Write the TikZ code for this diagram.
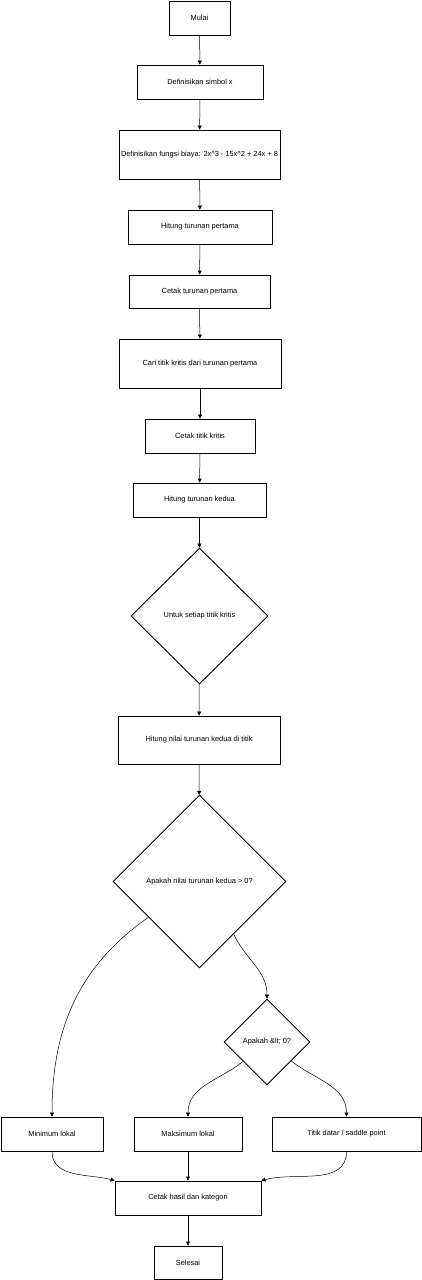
\documentclass[tikz,border=0pt]{standalone}
\usepackage{fontspec}
\setmainfont{Liberation Sans}
\usepackage{tikz}
\usetikzlibrary{positioning, arrows.meta, shapes.geometric}

\begin{document}
\begin{tikzpicture}[x=1pt, y=1pt,
        font=\fontsize{7.4}{9}\selectfont,
        box/.style={draw, line width=0.9pt, inner sep=1pt, align=center},
        cond/.style={draw, diamond, aspect=1, line width=0.9pt, inner sep=1pt},
        arr/.style={-{Triangle[length=4pt, width=4pt]}, line width=0.5pt}]
    \useasboundingbox (0,0) rectangle (422,-1280);
    % main column
    \node[box, minimum width=61pt,  minimum height=34pt] (start) at (199.5,-18)   {Mulai};
    \node[box, minimum width=126pt, minimum height=34pt] (defx)  at (200,-82)     {Definisikan simbol x};
    \node[box, minimum width=161pt, minimum height=49pt] (deff)  at (199.5,-154.5) {Definisikan fungsi biaya: 2x\^{}3 - 15x\^{}2 + 24x + 8};
    \node[box, minimum width=144pt, minimum height=34pt] (hit1)  at (200,-227)    {Hitung turunan pertama};
    \node[box, minimum width=141pt, minimum height=33pt] (cet1)  at (199.5,-291.5) {Cetak turunan pertama};
    \node[box, minimum width=162pt, minimum height=49pt] (cari)  at (200,-363.5)  {Cari titik kritis dari turunan pertama};
    \node[box, minimum width=110pt, minimum height=34pt] (cetk)  at (200,-436)    {Cetak titik kritis};
    \node[box, minimum width=133pt, minimum height=34pt] (hit2)  at (199.5,-500)  {Hitung turunan kedua};
    \node[cond, minimum width=137pt, minimum height=136pt] (loop) at (199.5,-616) {Untuk setiap titik kritis};
    \node[box, minimum width=162pt, minimum height=48pt] (nilai) at (199,-740)    {Hitung nilai turunan kedua di titik};
    \node[cond, minimum width=173pt, minimum height=173pt] (pos) at (199.5,-881.5) {Apakah nilai turunan kedua > 0?};
    \node[cond, minimum width=86pt, minimum height=86pt] (neg)   at (267,-1042)   {Apakah \&lt; 0?};
    % results
    \node[box, minimum width=102pt, minimum height=34pt] (min)   at (52,-1134)    {Minimum lokal};
    \node[box, minimum width=108pt, minimum height=34pt] (max)   at (188,-1134)   {Maksimum lokal};
    \node[box, minimum width=149pt, minimum height=34pt] (datar) at (346.5,-1134) {Titik datar / saddle point};
    \node[box, minimum width=146pt, minimum height=34pt] (hasil) at (188,-1198)   {Cetak hasil dan kategori};
    \node[box, minimum width=68pt,  minimum height=33pt] (end)   at (188,-1262.5) {Selesai};

    \foreach \a/\b in {start/defx, defx/deff, deff/hit1, hit1/cet1, cet1/cari, cari/cetk,
            cetk/hit2, hit2/loop, loop/nilai, nilai/pos, max/hasil, hasil/end}
        \draw[arr] (\a) -- (\b);
    \draw[arr] (pos.215) to[out=215, in=90] (min.north);
    \draw[arr] (pos.303) to[out=-65, in=90] (neg.north);
    \draw[arr] (neg.219) to[out=219, in=90] (max.north);
    \draw[arr] (neg.322) to[out=-38, in=90] (datar.north);
    \draw[arr] (min.south) to[out=-90, in=165] (hasil.north west);
    \draw[arr] (datar.south) to[out=-90, in=15] (hasil.north east);
\end{tikzpicture}
\end{document}
